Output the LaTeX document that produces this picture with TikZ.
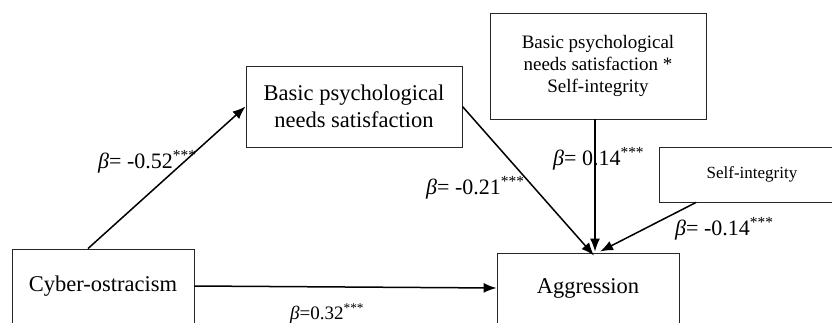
\documentclass[tikz,border=0pt]{standalone}
\usepackage{fontspec}
\setmainfont{Liberation Serif}
\usetikzlibrary{arrows.meta}

\begin{document}
\begin{tikzpicture}[x=1pt,y=1pt,
  box/.style={draw=black!85,line width=0.9pt,inner sep=0pt,align=center},
  link/.style={line width=1.5pt,-{Latex[length=13pt,width=10pt]}},
  coef/.style={anchor=base west,inner sep=0pt,font=\fontsize{22}{24}\selectfont}]
\useasboundingbox (0,0) rectangle (832,322);
\clip (0,0) rectangle (832,322);

\node[box,minimum width=182pt,minimum height=74pt,font=\fontsize{22.5}{27}\selectfont] (cyber) at (103,36) {Cyber-ostracism};
\node[box,minimum width=216pt,minimum height=81pt,font=\fontsize{22.5}{27}\selectfont] (needs) at (354,215.5) {Basic psychological\\needs satisfaction};
\node[box,minimum width=216pt,minimum height=106pt,font=\fontsize{19}{21.7}\selectfont] (inter) at (598,256) {Basic psychological\\needs satisfaction *\\Self-integrity};
\node[box,minimum width=186pt,minimum height=55pt,font=\fontsize{17}{19}\selectfont] (selfint) at (752,147.5) {Self-integrity};
\node[box,minimum width=182pt,minimum height=70pt,font=\fontsize{22.5}{27}\selectfont] (aggr) at (588,34) {Aggression};

\draw[link] ([xshift=-15pt]cyber.north) -- (needs.west);
\draw[link] (cyber.east) -- (aggr.west);
\draw[link] (needs.east) -- ([xshift=6pt,yshift=-3pt]aggr.north);
\draw[link] ([xshift=-3pt]inter.south) -- ([xshift=-3pt,yshift=1pt]inter.south |- aggr.north);
\draw[link] ([xshift=-56pt]selfint.south) -- ([xshift=12pt,yshift=1pt]aggr.north);

\node[coef] (b52) at (98,154) {\textit{β}= -0.52\textsuperscript{***}};
\node[coef,font=\fontsize{19}{21}\selectfont] (b32) at (290,3) {\textit{β}=0.32\textsuperscript{***}};
\node[coef] (b21) at (426,128) {\textit{β}= -0.21\textsuperscript{***}};
\node[coef] (b14a) at (553,157) {\textit{β}= 0.14\textsuperscript{***}};
\node[coef] (b14b) at (675,87) {\textit{β}= -0.14\textsuperscript{***}};
\end{tikzpicture}
\end{document}
